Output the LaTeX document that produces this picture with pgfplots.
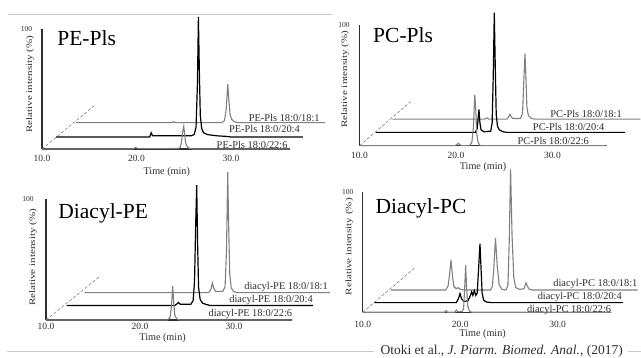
\documentclass[border=0pt]{standalone}
\usepackage{pgfplots}
\pgfplotsset{compat=1.18}
\usepackage{fontspec}
\setmainfont{Liberation Serif}
\definecolor{tr}{HTML}{808080}
\definecolor{ax}{HTML}{2E2E2E}
\definecolor{sep}{HTML}{C8C8C8}
\pgfplotsset{
  chrom/.style={
    scale only axis, enlargelimits=false, clip=false,
    axis x line=bottom, axis y line=left,
    axis line style={-, line width=1.2pt, ax},
    xmin=10, ymin=0, ymax=100,
    xtick={10,20,30}, xticklabels={10.0,20.0,30.0},
    ytick={100}, yticklabels={100},
    major tick length=0pt,
    xticklabel style={anchor=center, inner sep=0pt, font=\fontsize{9.5}{9.5}\selectfont, text=ax},
    yticklabel style={anchor=center, inner sep=0pt, font=\fontsize{7.5}{7.5}\selectfont, text=ax},
  },
  front/.style={tr, line width=1.1pt},
  mid/.style={black, line width=1.2pt},
  back/.style={tr, line width=1.1pt},
  diag/.style={gray, densely dashed, line width=0.6pt},
}
\tikzset{
  tlab/.style={anchor=east, inner sep=0pt, font=\fontsize{10.4}{10.4}\selectfont, text=ax},
  ptitle/.style={anchor=west, inner sep=0pt, font=\fontsize{21.5}{21.5}\selectfont},
  xlab/.style={anchor=center, inner sep=0pt, font=\fontsize{10.2}{10.2}\selectfont, text=ax},
  ylab/.style={anchor=center, inner sep=0pt, rotate=90, text=ax},
}
\newcommand{\ylabtext}{\scalebox{1.3}[1]{\fontsize{8.5}{8.5}\selectfont Relative intensity (\%)}}
\begin{document}
\begin{tikzpicture}[x=1pt,y=1pt]
\path[use as bounding box] (0,0) rectangle (641,358);
% separators
\draw[sep, line width=1pt] (8,343.5) -- (332,343.5);
\draw[sep, line width=1pt] (7,6.5) -- (374,6.5);
\draw[sep, line width=1pt] (628,6.5) -- (641,6.5);

% ---------------- Panel 1: PE-Pls ----------------
\begin{axis}[chrom, at={(42pt,209pt)}, anchor=south west,
  width=247.6pt, height=120pt, xmax=36.2,
  xticklabel style={yshift=-9.5pt}, yticklabel style={xshift=-15.5pt}]
\addplot[diag] coordinates {(10,0) (15.53,36.1)};
\addplot[back] table[x expr=\thisrowno{0}+3.6, y expr=\thisrowno{1}+22, row sep=\\]{
t i\\ 10.0 0\\ 20.2 0\\ 20.3 0.8\\ 20.5 0\\ 25.4 0\\ 25.7 1.5\\ 25.88 10\\ 26.0 25\\ 26.06 32\\ 26.16 20\\ 26.3 7\\ 26.45 3\\ 26.7 1\\ 27.1 0\\ 36.35 0\\};
\addplot[mid] table[x expr=\thisrowno{0}+1.5, y expr=\thisrowno{1}+10, row sep=\\]{
t i\\ 10.0 0\\ 19.9 0\\ 20.05 3.5\\ 20.2 1\\ 24.3 1\\ 24.6 2\\ 24.8 8\\ 24.95 45\\ 25.05 100\\ 25.15 55\\ 25.25 18\\ 25.4 7\\ 25.6 3.5\\ 26.0 2\\ 27.0 1\\ 28.0 0.5\\ 28.5 0\\ 36.1 0\\};
\addplot[front] table[row sep=\\]{
t i\\ 10.0 0\\ 19.6 0\\ 19.9 1.2\\ 20.2 0.3\\ 23.0 0.3\\ 24.4 0.5\\ 24.6 1\\ 24.75 5\\ 24.88 14\\ 25.0 19\\ 25.1 12\\ 25.2 5\\ 25.35 2\\ 25.6 0.5\\ 26.0 0\\ 36.2 0\\};
\node[ptitle] at (axis cs:11.6,92.5) {PE-Pls};
\node[tlab] at (axis cs:39.4,25.8) {PE-Pls 18:0/18:1};
\node[tlab] at (axis cs:37.3,16.7) {PE-Pls 18:0/20:4};
\node[tlab] at (axis cs:36.0,3.6) {PE-Pls 18:0/22:6};
\node[xlab] at (axis cs:23.2,-19) {Time (min)};
\node[ylab] at (axis cs:8.73,54) {\ylabtext};
\end{axis}

% ---------------- Panel 2: PC-Pls ----------------
\begin{axis}[chrom, at={(359.5pt,212.3pt)}, anchor=south west,
  width=247pt, height=121pt, xmax=35.6,
  xticklabel style={yshift=-9.3pt}, yticklabel style={xshift=-15.5pt}]
\addplot[diag] coordinates {(10,0) (15.3,36.4)};
\addplot[back] table[x expr=\thisrowno{0}+3.4, y expr=\thisrowno{1}+22, row sep=\\]{
t i\\ 10.0 0\\ 19.6 0\\ 19.8 1\\ 20.0 0\\ 21.9 0\\ 22.1 2.5\\ 22.2 4\\ 22.32 2\\ 22.5 0.5\\ 23.3 0.5\\ 23.5 5\\ 23.65 35\\ 23.75 54\\ 23.85 35\\ 23.95 10\\ 24.1 3\\ 24.4 0.5\\ 24.8 0\\ 35.7 0\\};
\addplot[mid] table[x expr=\thisrowno{0}+1.7, y expr=\thisrowno{1}+11, row sep=\\]{
t i\\ 10.0 0\\ 20.3 0\\ 20.5 3\\ 20.6 12\\ 20.68 19\\ 20.78 8\\ 20.9 2\\ 21.2 0.5\\ 21.9 1\\ 22.05 8\\ 22.17 50\\ 22.27 99\\ 22.37 55\\ 22.47 15\\ 22.6 5\\ 22.8 2\\ 23.2 0.5\\ 23.6 0\\ 35.8 0\\};
\addplot[front] table[row sep=\\]{
t i\\ 10.0 0\\ 19.9 0\\ 20.1 1\\ 20.25 2\\ 20.4 0.8\\ 20.6 0\\ 21.4 0\\ 21.65 3\\ 21.8 15\\ 21.95 42\\ 22.05 30\\ 22.15 10\\ 22.28 3\\ 22.5 0\\ 35.6 0\\};
\node[ptitle] at (axis cs:11.4,91.5) {PC-Pls};
\node[tlab] at (axis cs:37.2,26.2) {PC-Pls 18:0/18:1};
\node[tlab] at (axis cs:35.4,15.5) {PC-Pls 18:0/20:4};
\node[tlab] at (axis cs:33.8,3.9) {PC-Pls 18:0/22:6};
\node[xlab] at (axis cs:22.8,-17.6) {Time (min)};
\node[ylab] at (axis cs:8.5,55) {\ylabtext};
\end{axis}

% ---------------- Panel 3: Diacyl-PE ----------------
\begin{axis}[chrom, at={(46pt,38pt)}, anchor=south west,
  width=246.3pt, height=120.5pt, xmax=36.2,
  xticklabel style={yshift=-6.5pt}, yticklabel style={xshift=-18pt}]
\addplot[diag] coordinates {(10,0) (15.67,35.9)};
\addplot[back] table[x expr=\thisrowno{0}+4.1, y expr=\thisrowno{1}+22.7, row sep=\\]{
t i\\ 10.0 0\\ 23.2 0\\ 23.45 3\\ 23.6 8\\ 23.75 3.5\\ 23.95 1\\ 24.7 1\\ 24.95 5\\ 25.1 35\\ 25.23 100\\ 25.33 55\\ 25.45 15\\ 25.6 4\\ 25.85 1\\ 26.2 0\\ 36.1 0\\};
\addplot[mid] table[x expr=\thisrowno{0}+2.2, y expr=\thisrowno{1}+12, row sep=\\]{
t i\\ 10.0 0\\ 21.5 0\\ 21.75 1.5\\ 21.9 2.5\\ 22.1 1\\ 23.2 1\\ 23.45 4\\ 23.6 20\\ 23.73 70\\ 23.83 100\\ 23.93 50\\ 24.03 15\\ 24.2 5\\ 24.45 2\\ 24.8 1\\ 25.3 0\\ 36.2 0\\};
\addplot[front] table[row sep=\\]{
t i\\ 10.0 0\\ 22.9 0\\ 23.2 2\\ 23.35 12\\ 23.48 28\\ 23.58 15\\ 23.7 4\\ 23.9 1\\ 24.2 0\\ 36.2 0\\};
\node[ptitle] at (axis cs:11.3,88.8) {Diacyl-PE};
\node[tlab] at (axis cs:40.0,27.1) {diacyl-PE 18:0/18:1};
\node[tlab] at (axis cs:38.4,16.6) {diacyl-PE 18:0/20:4};
\node[tlab] at (axis cs:36.2,5) {diacyl-PE 18:0/22:6};
\node[xlab] at (axis cs:22.4,-15) {Time (min)};
\node[ylab] at (axis cs:8.62,51.9) {\ylabtext};
\end{axis}

% ---------------- Panel 4: Diacyl-PC ----------------
\begin{axis}[chrom, at={(362.7pt,45.7pt)}, anchor=south west,
  width=248.6pt, height=120.6pt, xmax=35.5,
  xticklabel style={yshift=-12pt}, yticklabel style={xshift=-15pt}]
\addplot[diag] coordinates {(10,0) (15.29,36.5)};
\addplot[back] table[x expr=\thisrowno{0}+2.9, y expr=\thisrowno{1}+18.5, row sep=\\]{
t i\\ 10.0 0\\ 15.6 0\\ 15.85 3\\ 16.0 12\\ 16.16 25\\ 16.3 12\\ 16.45 3\\ 16.7 1\\ 16.9 2\\ 17.1 0.5\\ 17.5 0\\ 20.2 0\\ 20.4 3\\ 20.55 18\\ 20.72 43\\ 20.9 20\\ 21.1 4\\ 21.4 0.5\\ 21.8 0\\ 22.0 4\\ 22.13 40\\ 22.27 100\\ 22.42 45\\ 22.6 10\\ 22.8 2\\ 23.2 0.5\\ 23.65 1\\ 23.85 6\\ 24.0 3\\ 24.2 0.5\\ 24.5 0\\ 35.3 0\\};
\addplot[mid] table[x expr=\thisrowno{0}+1.2, y expr=\thisrowno{1}+8, row sep=\\]{
t i\\ 10.0 0\\ 18.4 0\\ 18.6 3\\ 18.78 7.5\\ 18.95 3\\ 19.2 1\\ 19.6 1.5\\ 19.85 6\\ 19.98 9\\ 20.1 6\\ 20.25 10\\ 20.4 6\\ 20.55 8\\ 20.7 30\\ 20.83 49\\ 20.93 30\\ 21.05 8\\ 21.2 2\\ 21.5 0.5\\ 22.0 0\\ 35.5 0\\};
\addplot[front] table[row sep=\\]{
t i\\ 10.0 0\\ 18.4 0\\ 18.55 1.5\\ 18.7 0\\ 19.45 0\\ 19.6 2\\ 19.75 0.5\\ 20.2 0.5\\ 20.35 3\\ 20.46 20\\ 20.56 39\\ 20.66 20\\ 20.78 5\\ 20.95 1\\ 21.2 0\\ 35.5 0\\};
\node[ptitle] at (axis cs:11.3,86.2) {Diacyl-PC};
\node[tlab] at (axis cs:38.2,23.5) {diacyl-PC 18:0/18:1};
\node[tlab] at (axis cs:36.6,12.4) {diacyl-PC 18:0/20:4};
\node[tlab] at (axis cs:35.5,1.8) {diacyl-PC 18:0/22:6};
\node[xlab] at (axis cs:22.3,-18) {Time (min)};
\node[ylab] at (axis cs:8.63,54.4) {\ylabtext};
\end{axis}

% citation
\node[anchor=base, inner sep=0pt, font=\fontsize{13.5}{13.5}\selectfont, text=ax] at (501.7,3.2)
  {Otoki et al., \textit{J. Piarm. Biomed. Anal.}, (2017)};
\end{tikzpicture}
\end{document}
